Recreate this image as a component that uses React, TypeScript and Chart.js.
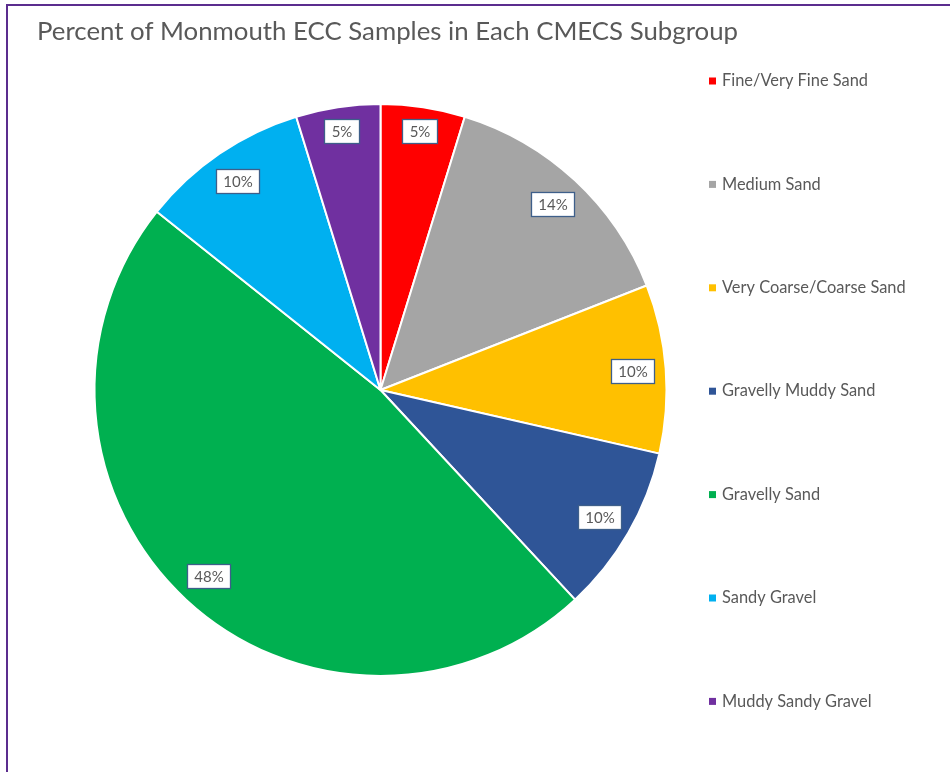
import React, { useEffect, useRef } from "react";
import { Chart, registerables } from "chart.js";

Chart.register(...registerables);

const TITLE = "Percent of Monmouth ECC Samples in Each CMECS Subgroup";
const categories = [
  "Fine/Very Fine Sand",
  "Medium Sand",
  "Very Coarse/Coarse Sand",
  "Gravelly Muddy Sand",
  "Gravelly Sand",
  "Sandy Gravel",
  "Muddy Sandy Gravel",
];
// sample counts (21 samples total)
const sampleCounts = [1, 3, 2, 2, 10, 2, 1];
const sliceColors = ["#FF0000", "#A5A5A5", "#FFC000", "#2F5597", "#00B050", "#00B0F0", "#7030A0"];

const FONT = "Lato, 'Liberation Sans', sans-serif";
const TEXT_COLOR = "#595959";

const titlePlugin = {
  id: "customTitle",
  afterDraw(chart: any) {
    const ctx = chart.ctx;
    ctx.save();
    ctx.fillStyle = TEXT_COLOR;
    ctx.font = `25.8px ${FONT}`;
    ctx.textBaseline = "alphabetic";
    ctx.textAlign = "left";
    ctx.fillText(TITLE, 37, 40);
    ctx.restore();
  },
};

const legendPlugin = {
  id: "customLegend",
  afterDraw(chart: any) {
    const ctx = chart.ctx;
    const labels = chart.data.labels as string[];
    const colors = chart.data.datasets[0].backgroundColor as string[];
    ctx.save();
    ctx.font = `16.4px ${FONT}`;
    ctx.textBaseline = "middle";
    ctx.textAlign = "left";
    labels.forEach((lab, i) => {
      const y = 81 + i * 103.4;
      ctx.fillStyle = colors[i];
      ctx.fillRect(709, y - 3.5, 7, 7);
      ctx.fillStyle = TEXT_COLOR;
      ctx.fillText(lab, 722, y);
    });
    ctx.restore();
  },
};

const dataLabelPlugin = {
  id: "pctLabels",
  afterDatasetsDraw(chart: any) {
    const ctx = chart.ctx;
    const meta = chart.getDatasetMeta(0);
    const values = chart.data.datasets[0].data as number[];
    const total = values.reduce((a, b) => a + b, 0);
    ctx.save();
    ctx.font = `15px ${FONT}`;
    ctx.textBaseline = "middle";
    ctx.textAlign = "center";
    meta.data.forEach((arc: any, i: number) => {
      const { x, y, startAngle, endAngle, outerRadius } = arc.getProps(
        ["x", "y", "startAngle", "endAngle", "outerRadius"],
        true
      );
      const mid = (startAngle + endAngle) / 2;
      const frac = values[i] / total < 0.07 ? 0.915 : 0.885;
      const px = x + Math.cos(mid) * outerRadius * frac;
      const py = y + Math.sin(mid) * outerRadius * frac;
      const txt = Math.round((values[i] / total) * 100) + "%";
      const w = Math.round(ctx.measureText(txt).width + 14);
      const h = 24;
      const bx = Math.round(px - w / 2);
      const by = Math.round(py - h / 2);
      ctx.fillStyle = "#FFFFFF";
      ctx.fillRect(bx, by, w, h);
      ctx.strokeStyle = "#3E5F8A";
      ctx.lineWidth = 1.3;
      ctx.strokeRect(bx + 0.5, by + 0.5, w, h);
      ctx.fillStyle = TEXT_COLOR;
      ctx.fillText(txt, bx + w / 2 + 0.5, by + h / 2 + 1);
    });
    ctx.restore();
  },
};

export default function App() {
  const ref = useRef<HTMLCanvasElement | null>(null);
  useEffect(() => {
    document.body.style.margin = "0";
    if (!ref.current) return;
    const chart = new Chart(ref.current, {
      type: "pie",
      data: {
        labels: categories,
        datasets: [
          {
            data: sampleCounts,
            backgroundColor: sliceColors,
            borderColor: "#FFFFFF",
            borderWidth: 2,
          },
        ],
      },
      options: {
        animation: false,
        responsive: false,
        layout: { padding: { left: 93.5, top: 103, right: 282.5, bottom: 95 } },
        plugins: {
          legend: { display: false },
          title: { display: false },
          tooltip: { enabled: false },
        },
      },
      plugins: [titlePlugin, legendPlugin, dataLabelPlugin],
    });
    return () => chart.destroy();
  }, []);
  return (
    <div style={{ position: "fixed", left: 0, top: 0, width: 950, height: 772, background: "#fff", overflow: "hidden" }}>
      <canvas ref={ref} width={950} height={772} style={{ position: "absolute", left: 0, top: 0 }} />
      <div
        style={{
          position: "absolute",
          left: 6,
          top: 4,
          width: 1000,
          height: 1000,
          borderLeft: "2px solid #5B2D8E",
          borderTop: "2px solid #5B2D8E",
        }}
      />
    </div>
  );
}
